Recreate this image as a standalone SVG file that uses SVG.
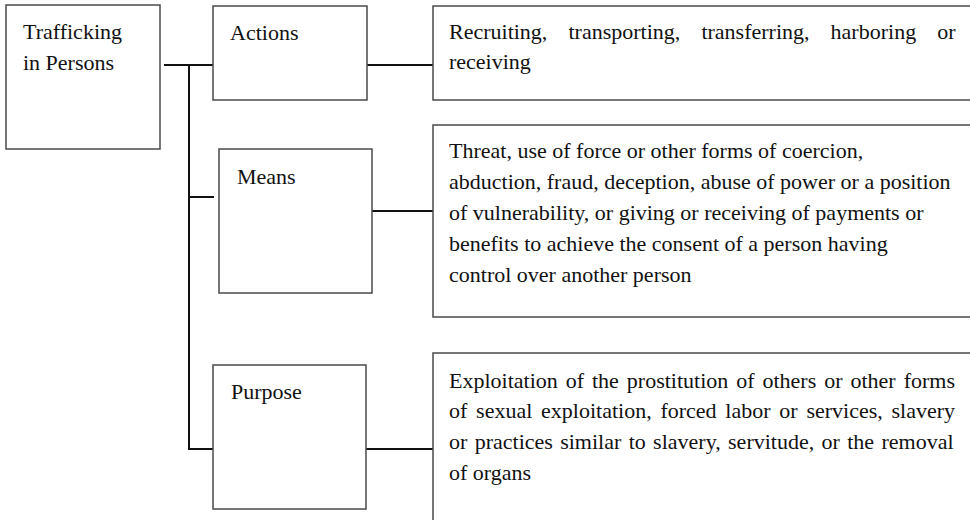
<svg xmlns="http://www.w3.org/2000/svg" width="970" height="520" viewBox="0 0 970 520">
<style>
  .box { fill: #ffffff; stroke: #4a4a4a; stroke-width: 1.5; }
  .conn { stroke: #111111; stroke-width: 2; fill: none; }
  .t { font-family: "Liberation Serif", "Times New Roman", serif; font-size: 22px; fill: #111111; }
</style>
<rect width="970" height="520" fill="#ffffff"/>

<g id="connectors">
  <line class="conn" x1="164" y1="65" x2="220" y2="65"/>
  <line class="conn" x1="189" y1="65" x2="189" y2="450"/>
  <line class="conn" x1="188" y1="197" x2="214" y2="197"/>
  <line class="conn" x1="188" y1="449" x2="214" y2="449"/>
  <line class="conn" x1="367" y1="65" x2="433" y2="65"/>
  <line class="conn" x1="372" y1="211" x2="433" y2="211"/>
  <line class="conn" x1="366" y1="449" x2="433" y2="449"/>
</g>

<g id="trafficking">
  <rect class="box" x="6" y="5" width="154" height="144"/>
  <text class="t" x="23" y="39">Trafficking</text>
  <text class="t" x="23" y="70">in Persons</text>
</g>

<g id="actions">
  <rect class="box" x="213" y="6" width="154" height="94"/>
  <text class="t" x="230" y="40">Actions</text>
</g>

<g id="means">
  <rect class="box" x="219" y="149" width="153" height="144"/>
  <text class="t" x="237" y="184">Means</text>
</g>

<g id="purpose">
  <rect class="box" x="213" y="365" width="153" height="144"/>
  <text class="t" x="231" y="399">Purpose</text>
</g>

<g id="actions-detail">
  <rect class="box" x="433" y="6" width="550" height="94"/>
  <text class="t" x="449" y="39" word-spacing="15.6">Recruiting, transporting, transferring, harboring or</text>
  <text class="t" x="449" y="69">receiving</text>
</g>

<g id="means-detail">
  <rect class="box" x="433" y="125" width="550" height="192"/>
  <text class="t" x="449" y="158">Threat, use of force or other forms of coercion,</text>
  <text class="t" x="449" y="189">abduction, fraud, deception, abuse of power or a position</text>
  <text class="t" x="449" y="220">of vulnerability, or giving or receiving of payments or</text>
  <text class="t" x="449" y="251">benefits to achieve the consent of a person having</text>
  <text class="t" x="449" y="282">control over another person</text>
</g>

<g id="purpose-detail">
  <rect class="box" x="433" y="353" width="550" height="200"/>
  <text class="t" x="449" y="388" word-spacing="2.45">Exploitation of the prostitution of others or other forms</text>
  <text class="t" x="449" y="418" word-spacing="3.26">of sexual exploitation, forced labor or services, slavery</text>
  <text class="t" x="449" y="449" word-spacing="1.85">or practices similar to slavery, servitude, or the removal</text>
  <text class="t" x="449" y="480">of organs</text>
</g>
</svg>
